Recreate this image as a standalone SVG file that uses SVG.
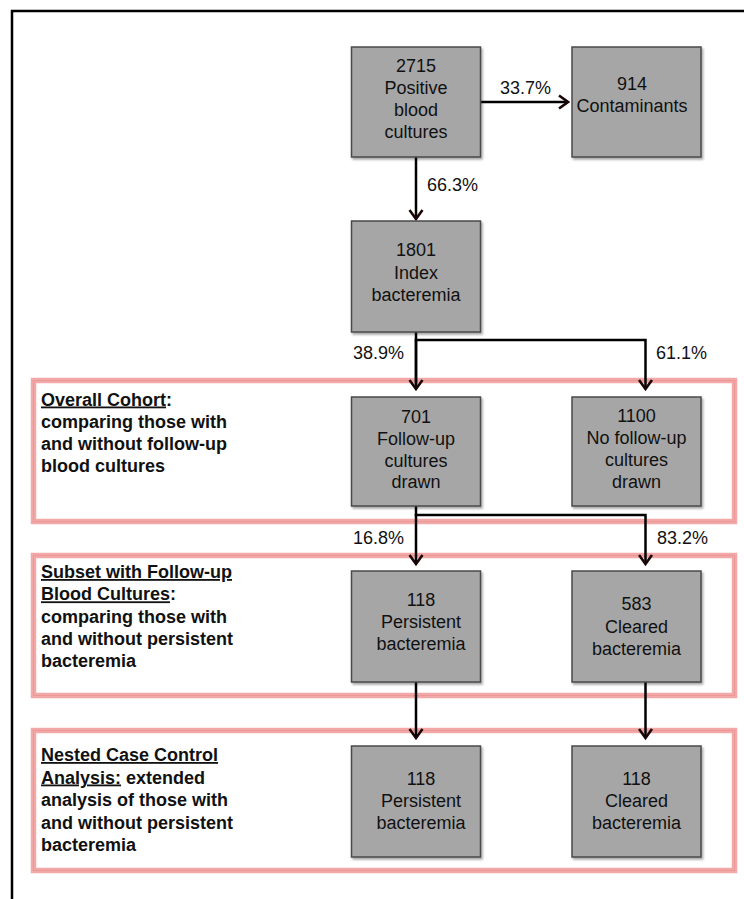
<svg xmlns="http://www.w3.org/2000/svg" width="744" height="899" viewBox="0 0 744 899">
<style>
.frame{fill:none;stroke:#000;stroke-width:2.5}
.band{fill:none;stroke:#f3a8a8;stroke-width:5.5}
.bandline{fill:none;stroke:#ea9898;stroke-width:1}
.box{fill:#a6a6a6;stroke:#4a4a4a;stroke-width:1.5}
.nt{font-family:"Liberation Sans",Arial,Helvetica,sans-serif;font-size:18px;fill:#111;text-anchor:middle}
.pct{font-family:"Liberation Sans",Arial,Helvetica,sans-serif;font-size:18px;fill:#111}
.lt{font-family:"Liberation Sans",Arial,Helvetica,sans-serif;font-size:18px;font-weight:bold;fill:#111}
.u{text-decoration:underline}
.conn{fill:none;stroke:#000;stroke-width:2.5}
</style>
<defs>
<filter id="sh" x="-10%" y="-10%" width="130%" height="130%">
<feDropShadow dx="1.5" dy="2" stdDeviation="1.2" flood-color="#000" flood-opacity="0.35"/>
</filter>
<marker id="ah" markerUnits="userSpaceOnUse" viewBox="-12 -8 14 16" markerWidth="14" markerHeight="16" refX="0" refY="0" orient="auto">
<path d="M-9,-6.5 L0,0 L-9,6.5" fill="none" stroke="#1a0606" stroke-width="2.6" stroke-linejoin="miter"/>
</marker>
</defs>
<rect width="744" height="899" fill="#fff"/>
<path class="frame" d="M12,899 V11 H744"/>

<g id="sections">
<rect class="band" x="33.5" y="380.5" width="701" height="141"/>
<rect class="bandline" x="33.5" y="380.5" width="701" height="141"/>
<rect class="band" x="33.5" y="555.5" width="701" height="140"/>
<rect class="bandline" x="33.5" y="555.5" width="701" height="140"/>
<rect class="band" x="33.5" y="730.5" width="701" height="140"/>
<rect class="bandline" x="33.5" y="730.5" width="701" height="140"/>
</g>

<g id="section-labels">
<text class="lt" x="41" y="405.5"><tspan class="u">Overall Cohort</tspan>:</text>
<text class="lt" x="41" y="427.5">comparing those with</text>
<text class="lt" x="41" y="449.5">and without follow-up</text>
<text class="lt" x="41" y="471.5">blood cultures</text>

<text class="lt" x="41" y="578"><tspan class="u">Subset with Follow-up</tspan></text>
<text class="lt" x="41" y="600.3"><tspan class="u">Blood Cultures</tspan>:</text>
<text class="lt" x="41" y="622.6">comparing those with</text>
<text class="lt" x="41" y="644.9">and without persistent</text>
<text class="lt" x="41" y="667.2">bacteremia</text>

<text class="lt" x="41" y="761"><tspan class="u">Nested Case Control</tspan></text>
<text class="lt" x="41" y="783.5"><tspan class="u">Analysis:</tspan> extended</text>
<text class="lt" x="41" y="806">analysis of those with</text>
<text class="lt" x="41" y="828.5">and without persistent</text>
<text class="lt" x="41" y="851">bacteremia</text>
</g>

<g id="connectors">
<path class="conn" d="M480,102 H568" marker-end="url(#ah)"/>
<path class="conn" d="M416,157 V219" marker-end="url(#ah)"/>
<path class="conn" d="M416,332 V389"/>
<path class="conn" d="M416,340 V389" marker-end="url(#ah)"/>
<path class="conn" d="M414.75,340 H645.5 V389" marker-end="url(#ah)"/>
<path class="conn" d="M416,506 V564" marker-end="url(#ah)"/>
<path class="conn" d="M414.75,515 H645.5 V564" marker-end="url(#ah)"/>
<path class="conn" d="M416,682 V738" marker-end="url(#ah)"/>
<path class="conn" d="M645.5,682 V738" marker-end="url(#ah)"/>
<text class="pct" x="500" y="94">33.7%</text>
<text class="pct" x="427" y="191">66.3%</text>
<text class="pct" x="404" y="359" text-anchor="end">38.9%</text>
<text class="pct" x="656" y="359">61.1%</text>
<text class="pct" x="404" y="544" text-anchor="end">16.8%</text>
<text class="pct" x="657" y="544">83.2%</text>
</g>

<g id="n-positive">
<rect class="box" filter="url(#sh)" x="351.5" y="47" width="129" height="110"/>
<text class="nt" x="416" y="71.5">2715</text>
<text class="nt" x="416" y="93.8">Positive</text>
<text class="nt" x="416" y="116.1">blood</text>
<text class="nt" x="416" y="138.4">cultures</text>
</g>
<g id="n-contaminants">
<rect class="box" filter="url(#sh)" x="572" y="47" width="129" height="110"/>
<text class="nt" x="632" y="90">914</text>
<text class="nt" x="632" y="112.3">Contaminants</text>
</g>
<g id="n-index">
<rect class="box" filter="url(#sh)" x="351.5" y="221" width="129" height="111"/>
<text class="nt" x="416" y="256">1801</text>
<text class="nt" x="416" y="278.5">Index</text>
<text class="nt" x="416" y="301">bacteremia</text>
</g>
<g id="n-followup">
<rect class="box" filter="url(#sh)" x="351.5" y="397" width="129" height="109"/>
<text class="nt" x="416" y="422.5">701</text>
<text class="nt" x="416" y="444.5">Follow-up</text>
<text class="nt" x="416" y="466.5">cultures</text>
<text class="nt" x="416" y="488">drawn</text>
</g>
<g id="n-nofollowup">
<rect class="box" filter="url(#sh)" x="572" y="397" width="129" height="109"/>
<text class="nt" x="636.5" y="422">1100</text>
<text class="nt" x="636.5" y="444">No follow-up</text>
<text class="nt" x="636.5" y="466">cultures</text>
<text class="nt" x="636.5" y="487.5">drawn</text>
</g>
<g id="n-persistent1">
<rect class="box" filter="url(#sh)" x="351.5" y="571" width="129" height="111"/>
<text class="nt" x="421" y="605.5">118</text>
<text class="nt" x="421" y="627.6">Persistent</text>
<text class="nt" x="421" y="649.9">bacteremia</text>
</g>
<g id="n-cleared1">
<rect class="box" filter="url(#sh)" x="572" y="571" width="129" height="111"/>
<text class="nt" x="636.5" y="610">583</text>
<text class="nt" x="636.5" y="632.5">Cleared</text>
<text class="nt" x="636.5" y="655">bacteremia</text>
</g>
<g id="n-persistent2">
<rect class="box" filter="url(#sh)" x="351.5" y="746" width="129" height="111"/>
<text class="nt" x="421" y="784.5">118</text>
<text class="nt" x="421" y="806.8">Persistent</text>
<text class="nt" x="421" y="829.3">bacteremia</text>
</g>
<g id="n-cleared2">
<rect class="box" filter="url(#sh)" x="572" y="746" width="129" height="111"/>
<text class="nt" x="636.5" y="784.5">118</text>
<text class="nt" x="636.5" y="806.8">Cleared</text>
<text class="nt" x="636.5" y="829.3">bacteremia</text>
</g>
</svg>
